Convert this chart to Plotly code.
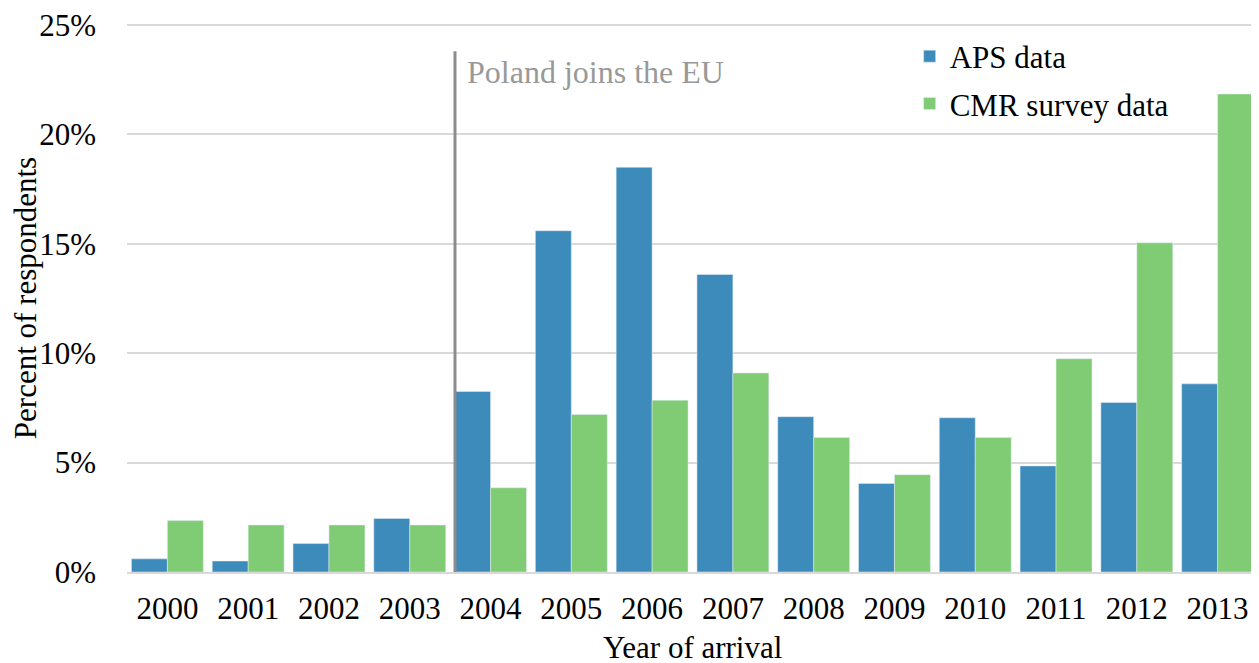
import plotly.graph_objects as go

years = ["2000", "2001", "2002", "2003", "2004", "2005", "2006",
         "2007", "2008", "2009", "2010", "2011", "2012", "2013"]
aps_data = [0.6, 0.5, 1.3, 2.45, 8.25, 15.6, 18.5, 13.6, 7.1, 4.05, 7.05, 4.85, 7.75, 8.6]
cmr_data = [2.35, 2.15, 2.15, 2.15, 3.85, 7.2, 7.85, 9.1, 6.15, 4.45, 6.15, 9.75, 15.05, 21.85]
y_ticks = [0, 5, 10, 15, 20, 25]
y_tick_labels = ["0%", "5%", "10%", "15%", "20%", "25%"]
eu_join_pos = 3.56
eu_label = "Poland joins the EU"
x_title = "Year of arrival"

FONT = "Liberation Serif, Times New Roman, serif"
FS = 31
BLUE = "#3D8BBB"
GREEN = "#80CC75"

fig = go.Figure()
fig.add_trace(go.Bar(x=years, y=aps_data, name="APS data", marker_color=BLUE,
                     legendgroup="a"))
fig.add_trace(go.Bar(x=years, y=cmr_data, name="CMR survey data", marker_color=GREEN,
                     legendgroup="b"))

fig.add_shape(type="line", xref="x", yref="y", x0=eu_join_pos, x1=eu_join_pos,
              y0=0, y1=23.8, line=dict(color="#8c8c8c", width=3))
fig.add_annotation(x=eu_join_pos, y=22.85, xref="x", yref="y", text=eu_label,
                   showarrow=False, xanchor="left", yanchor="middle", xshift=10,
                   font=dict(family=FONT, size=32, color="#999999"))
# x-axis title placed as annotation so it can sit near the bottom edge
fig.add_annotation(x=0.5, y=-0.137, xref="paper", yref="paper", text=x_title,
                   showarrow=False, xanchor="center", yanchor="middle",
                   font=dict(family=FONT, size=FS, color="black"))

fig.update_layout(
    width=1251, height=655,
    margin=dict(l=119, r=1, t=16, b=91),
    plot_bgcolor="white", paper_bgcolor="white",
    font=dict(family=FONT, size=FS, color="black"),
    barmode="group", bargap=0.11, bargroupgap=0,
    legend=dict(x=0.692, y=0.99, xanchor="left", yanchor="top",
                font=dict(family=FONT, size=FS), tracegroupgap=4,
                bgcolor="rgba(0,0,0,0)"),
    xaxis=dict(type="category", range=[-0.5, 13.5], showgrid=False,
               showline=True, linecolor="#d9d9d9", linewidth=2,
               ticks="outside", ticklen=8, tickcolor="rgba(0,0,0,0)",
               automargin=False,
               tickfont=dict(family=FONT, size=FS)),
    yaxis=dict(range=[0, 25.05], tickvals=y_ticks, ticktext=y_tick_labels,
               showgrid=True, gridcolor="#d9d9d9", gridwidth=1.5,
               zeroline=False, showline=False, ticklabelstandoff=30,
               ticklabeloverflow="allow",
               tickfont=dict(family=FONT, size=FS),
               title=dict(text="Percent of respondents", standoff=5,
                          font=dict(family=FONT, size=FS))),
)

fig.write_html("out.html")
